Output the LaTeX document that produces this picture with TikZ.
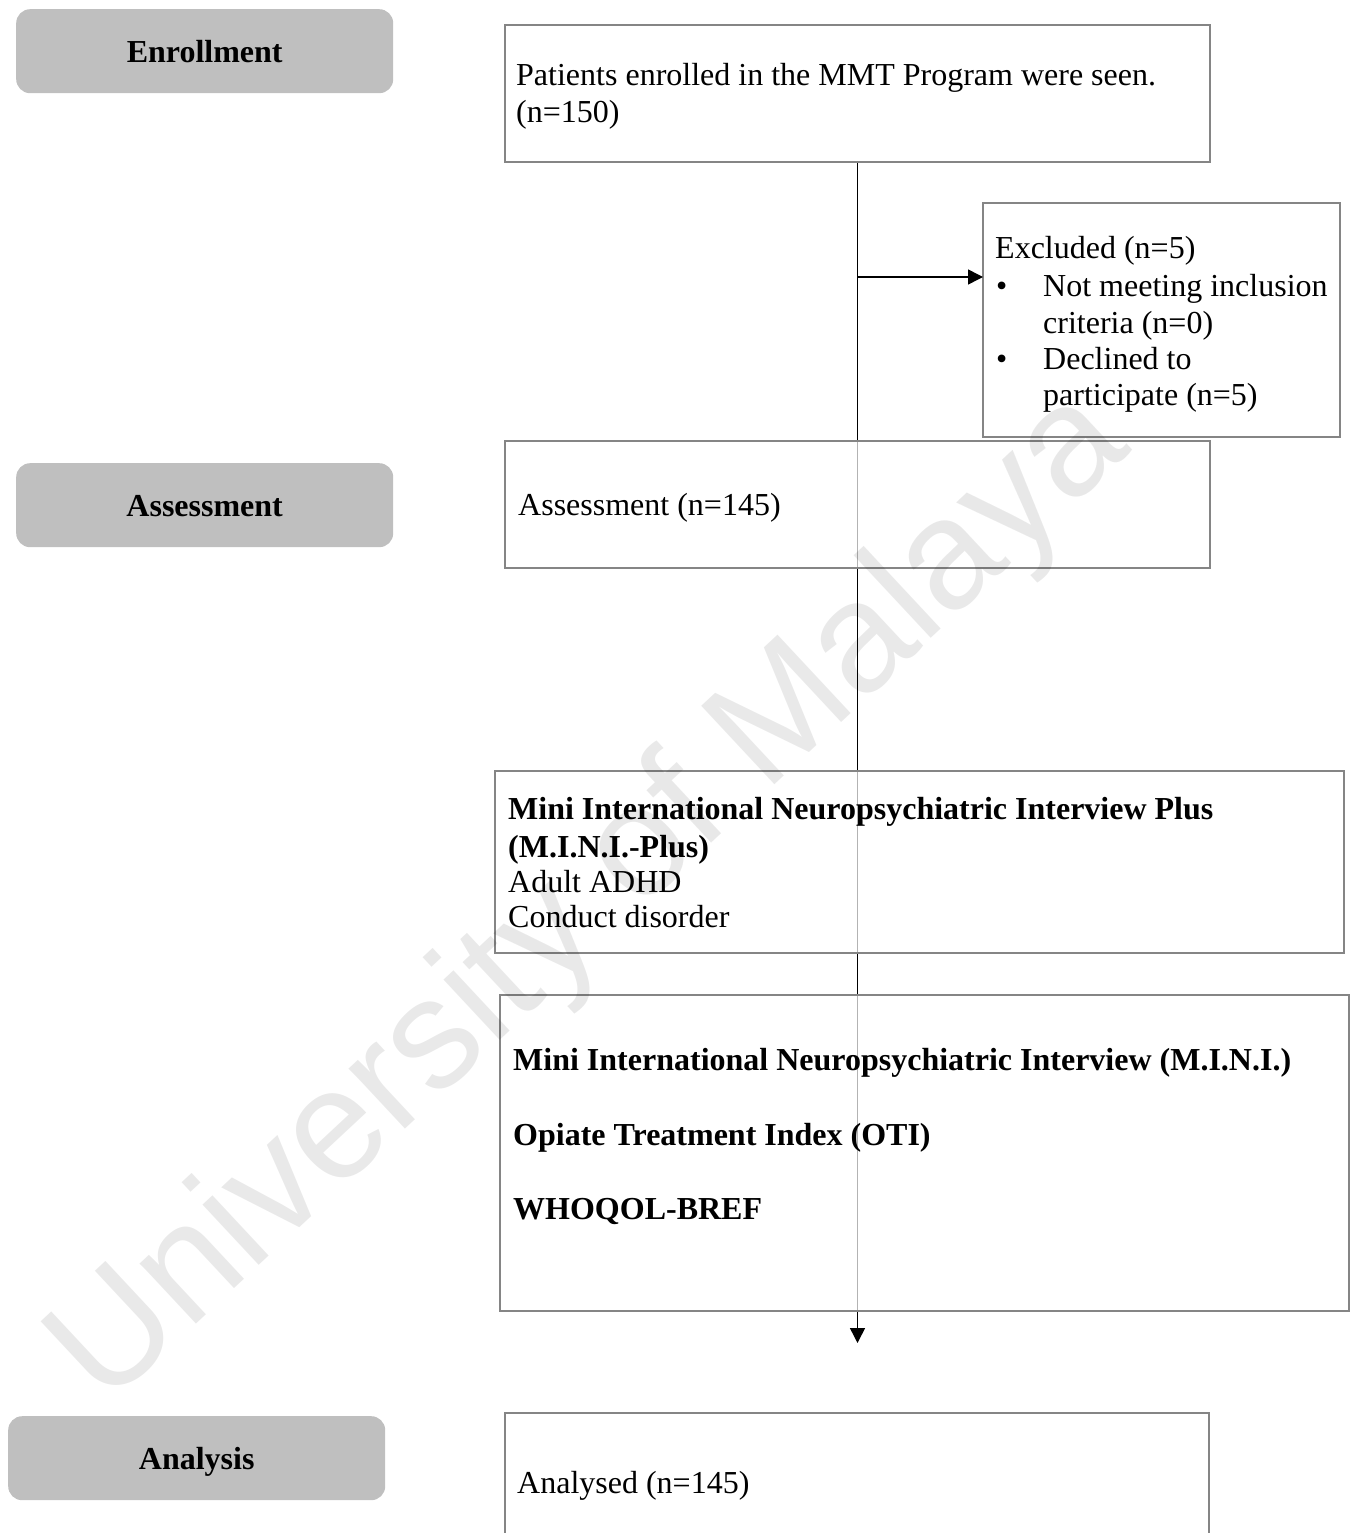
\documentclass[tikz,border=0pt]{standalone}
\usepackage{fontspec}
\setmainfont{Liberation Serif}
\newfontfamily\wmfont{Liberation Sans}
\usetikzlibrary{arrows.meta}
\definecolor{boxgray}{HTML}{858585}
\definecolor{labelgray}{HTML}{BFBFBF}
\pgfdeclarelayer{bg}
\pgfdeclarelayer{wm}
\pgfdeclarelayer{fg}
\pgfsetlayers{bg,main,wm,fg}
\begin{document}
\begin{tikzpicture}[x=1pt,y=-1pt,
  box/.style={draw=boxgray, line width=2.5pt, fill=white, fill opacity=0.7, anchor=north west, inner sep=0pt, outer sep=0pt},
  stage/.style={fill=labelgray, rounded corners=14pt, anchor=north west, inner sep=0pt, minimum width=377pt, minimum height=84pt, font=\fontsize{32}{37}\selectfont\bfseries, text height=23pt, text depth=0pt},
  txt/.style={anchor=base west, inner sep=0pt, font=\fontsize{32}{37}\selectfont},
  btxt/.style={anchor=base west, inner sep=0pt, font=\fontsize{32}{37}\selectfont\bfseries},
  flow/.style={line width=1.5pt, black},
  arr/.style={flow, -{Triangle[length=15pt,width=15pt]}}]
\useasboundingbox (0,0) rectangle (1356,1533);
% stage labels
\node[stage] (lenroll) at (16,9) {Enrollment};
\node[stage] (lassess) at (16,463) {Assessment};
\node[stage] (lanalysis) at (8,1416) {Analysis};
% boxes
\node[box, minimum width=705pt, minimum height=137pt] (b1) at (505,25) {};
\node[box, minimum width=357pt, minimum height=234pt] (excl) at (983,203) {};
\node[box, minimum width=705pt, minimum height=127pt] (b2) at (505,441) {};
\node[box, minimum width=849pt, minimum height=182pt] (b3) at (495,771) {};
\node[box, minimum width=849pt, minimum height=316pt] (b4) at (500,995) {};
\node[box, minimum width=704pt, minimum height=160pt] (b5) at (505,1413) {};
% connectors
\coordinate (branch) at (b1.south |- 0,277);
\coordinate (endpt) at (b1.south |- 0,1343);
\begin{pgfonlayer}{bg}
\draw[arr] (b1.south) -- (endpt);
\end{pgfonlayer}
\draw[arr] (branch) -- (branch -| excl.west);
% watermark
\begin{pgfonlayer}{wm}
\node[rotate=43, text=black, text opacity=0.085, font=\wmfont\fontsize{156}{156}\selectfont, inner sep=0pt] (wmark) at (592,900) {University of Malaya};
\end{pgfonlayer}
% texts
\begin{pgfonlayer}{fg}
\node[txt] (t1a) at (516,86) {Patients enrolled in the MMT Program were seen.};
\node[txt] (t1b) at (516,123) {(n=150)};
\node[txt] (e1) at (995,258) {Excluded (n=5)};
\node[txt] (e2b) at (996,296) {•};
\node[txt] (e2) at (1043,296) {Not meeting inclusion};
\node[txt] (e3) at (1043,333) {criteria (n=0)};
\node[txt] (e4b) at (996,369) {•};
\node[txt] (e4) at (1043,369) {Declined to};
\node[txt] (e5) at (1043,405) {participate (n=5)};
\node[txt] (t2) at (518,515) {Assessment (n=145)};
\node[btxt] (t3a) at (508,819) {Mini International Neuropsychiatric Interview Plus};
\node[btxt] (t3b) at (508,857) {(M.I.N.I.-Plus)};
\node[txt] (t3c) at (508,892) {Adult ADHD};
\node[txt] (t3d) at (508,927) {Conduct disorder};
\node[btxt] (t4a) at (513,1070) {Mini International Neuropsychiatric Interview (M.I.N.I.)};
\node[btxt] (t4b) at (513,1145) {Opiate Treatment Index (OTI)};
\node[btxt] (t4c) at (513,1219) {WHOQOL-BREF};
\node[txt] (t5) at (517,1493) {Analysed (n=145)};
\end{pgfonlayer}
\end{tikzpicture}
\end{document}
